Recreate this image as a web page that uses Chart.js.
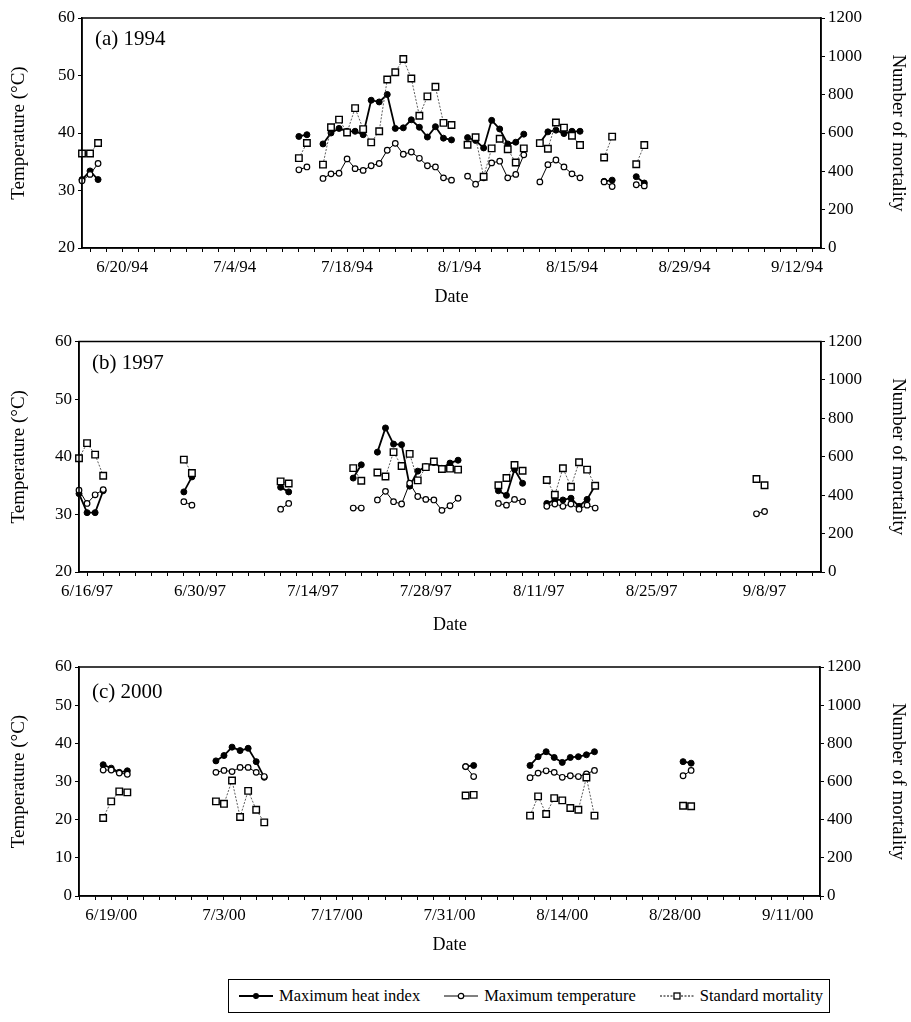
<!DOCTYPE html>
<html>
<head>
<meta charset="utf-8">
<script src="https://cdn.jsdelivr.net/npm/chart.js@4.4.1/dist/chart.umd.min.js"></script>
<style>
  body { margin: 0; background: #fff; width: 911px; height: 1022px; position: relative; overflow: hidden; font-family: "Liberation Serif", serif; }
  canvas { position: absolute; left: 0; }
  #legend { position: absolute; left: 228px; top: 979px; width: 600px; height: 32px; border: 1.5px solid #000;
    display: flex; align-items: center; font-size: 16.5px; color: #000; box-sizing: content-box; }
  #legend .item { display: flex; align-items: center; margin-left: 10px; margin-right: 14px; white-space: nowrap; }
  #legend svg { margin-right: 6px; }
</style>
</head>
<body>
<canvas id="c1994" width="911" height="312" style="top:0px"></canvas>
<canvas id="c1997" width="911" height="320" style="top:320px"></canvas>
<canvas id="c2000" width="911" height="320" style="top:645px"></canvas>
<div id="legend">
  <span class="item"><svg width="34" height="10"><line x1="0" y1="5" x2="34" y2="5" stroke="#000" stroke-width="1.8"/><circle cx="17" cy="5" r="3" fill="#000"/></svg>Maximum heat index</span>
  <span class="item"><svg width="34" height="10"><line x1="0" y1="5" x2="34" y2="5" stroke="#000" stroke-width="1"/><circle cx="17" cy="5" r="2.7" fill="#fff" stroke="#000" stroke-width="1.2"/></svg>Maximum temperature</span>
  <span class="item"><svg width="34" height="10"><line x1="0" y1="5" x2="34" y2="5" stroke="#000" stroke-width="1" stroke-dasharray="2,1.5"/><rect x="14" y="2" width="6" height="6" fill="#fff" stroke="#000" stroke-width="1.3"/></svg>Standard mortality</span>
</div>
<script>
// 1994
const dates1994 = ["6/15","6/16","6/17",
  "7/12","7/13",
  "7/15","7/16","7/17","7/18","7/19","7/20","7/21","7/22","7/23","7/24","7/25","7/26","7/27","7/28","7/29","7/30","7/31",
  "8/2","8/3","8/4","8/5","8/6","8/7","8/8","8/9",
  "8/11","8/12","8/13","8/14","8/15","8/16",
  "8/19","8/20",
  "8/23","8/24"];
const heatIndex1994 = [31.9, 33.4, 31.9, 39.4, 39.7,
  38.1, 40.0, 40.8, 40.3, 40.3, 39.7, 45.7, 45.4, 46.7, 40.8, 40.9, 42.3, 41.0, 39.3, 41.1, 39.1, 38.8,
  39.2, 38.7, 37.4, 42.2, 40.7, 38.1, 38.4, 39.8,
  38.3, 40.2, 40.5, 39.9, 40.3, 40.3,
  31.6, 31.8, 32.4, 31.3];
const maxTemp1994 = [31.7, 32.8, 34.7, 33.6, 34.1,
  32.1, 32.9, 33.0, 35.5, 33.8, 33.5, 34.3, 34.7, 37.0, 38.2, 36.3, 36.7, 35.6, 34.3, 34.1, 32.2, 31.8,
  32.5, 31.1, 32.2, 34.8, 35.1, 32.2, 32.8, 36.2,
  31.5, 34.5, 35.3, 34.1, 32.9, 32.2,
  31.5, 30.7, 31.0, 30.8];
const mortality1994 = [493, 493, 548, 469, 548,
  435, 630, 670, 603, 730, 620, 551, 609, 879, 917, 986, 884, 690, 791, 841, 653, 642,
  539, 578, 372, 520, 570, 515, 446, 520,
  547, 518, 655, 628, 586, 537,
  472, 581, 437, 537];

// 1997
const dates1997 = ["6/15","6/16","6/17","6/18",
  "6/28","6/29",
  "7/10","7/11",
  "7/19","7/20",
  "7/22","7/23","7/24","7/25","7/26","7/27","7/28","7/29","7/30","7/31","8/1",
  "8/6","8/7","8/8","8/9",
  "8/12","8/13","8/14","8/15","8/16","8/17","8/18",
  "9/7","9/8"];
const heatIndex1997 = [33.6, 30.3, 30.3, 34.1, 33.9, 36.5, 34.7, 33.9, 36.3, 38.6,
  40.8, 45.0, 42.2, 42.1, 34.9, 37.5, 38.3, 39.0, 38.0, 38.9, 39.4,
  34.1, 33.3, 37.8, 35.4,
  31.9, 32.5, 32.5, 32.8, 31.4, 32.6, 35.0,
  null, null];
const maxTemp1997 = [34.2, 31.9, 33.4, 34.3, 32.2, 31.6, 30.9, 31.9, 31.1, 31.1,
  32.5, 34.0, 32.2, 31.8, 35.4, 33.1, 32.6, 32.5, 30.7, 31.5, 32.8,
  31.9, 31.6, 32.6, 32.2,
  31.4, 31.8, 31.4, 31.8, 30.9, 31.6, 31.1,
  30.1, 30.5];
const mortality1997 = [592, 671, 611, 501, 585, 515, 472, 461, 541, 475,
  518, 497, 624, 552, 615, 477, 546, 575, 536, 538, 533,
  452, 489, 557, 527,
  479, 402, 540, 444, 571, 533, 449,
  484, 452];

// 2000
const dates2000 = ["6/18","6/19","6/20","6/21",
  "7/2","7/3","7/4","7/5","7/6","7/7","7/8",
  "8/2","8/3",
  "8/10","8/11","8/12","8/13","8/14","8/15","8/16","8/17","8/18",
  "8/29","8/30"];
const heatIndex2000 = [34.4, 33.5, 32.4, 32.8,
  35.4, 36.8, 39.0, 38.1, 38.7, 35.2, 31.1,
  33.9, 34.2,
  34.2, 36.5, 37.8, 36.3, 35.0, 36.3, 36.5, 37.0, 37.8,
  35.2, 34.8];
const maxTemp2000 = [33.0, 33.0, 32.2, 31.9,
  32.4, 32.9, 32.6, 33.7, 33.7, 32.4, 31.3,
  33.9, 31.3,
  31.0, 32.2, 32.8, 32.4, 31.1, 31.5, 31.3, 32.0, 32.9,
  31.5, 32.9];
const mortality2000 = [409, 496, 548, 543,
  496, 483, 605, 414, 551, 452, 386,
  527, 530,
  421, 522, 430, 513, 501, 461, 452, 621, 421,
  473, 470];

// axis labels every 14 days, first one per year
const firstLabel = { 1994: "6/20", 1997: "6/16", 2000: "6/19" };
const axisStart = "6/15", axisEnd = "9/15";

const FONT = "Liberation Serif";

function dayOf(year, md) {
  const [m, d] = md.split("/").map(Number);
  return Date.UTC(year, m - 1, d) / 864e5;
}

function fmt(year, v) {
  const dt = new Date(v * 864e5);
  return (dt.getUTCMonth() + 1) + "/" + dt.getUTCDate() + "/" + String(year).slice(2);
}

// points with a break wherever days are not consecutive
function series(year, dates, vals) {
  const out = [];
  let prev = null;
  dates.forEach((md, i) => {
    const x = dayOf(year, md);
    if (prev !== null && x - prev > 1) out.push({ x: x - 0.5, y: null });
    out.push({ x: x, y: vals[i] });
    prev = x;
  });
  return out;
}

const frame = {
  id: "frame",
  afterDraw(chart, args, opts) {
    const { ctx, chartArea: a } = chart;
    ctx.save();
    ctx.strokeStyle = "#000";
    ctx.lineWidth = 1.5;
    ctx.strokeRect(a.left, a.top, a.right - a.left, a.bottom - a.top);
    ctx.fillStyle = "#000";
    ctx.font = "21px '" + FONT + "'";
    ctx.textBaseline = "alphabetic";
    ctx.fillText(opts.text, a.left + 13, a.top + opts.dy);
    ctx.restore();
  }
};

function makePanel(id, year, dates, hi, tmax, mort, p) {
  const canvas = document.getElementById(id);
  const W = canvas.width, H = canvas.height;
  const min = dayOf(year, axisStart), max = dayOf(year, axisEnd);
  const first = dayOf(year, firstLabel[year]);
  const tickDays = [];
  for (let v = first - 2 * Math.floor((first - min) / 2); v <= max; v += 2) tickDays.push(v);
  const tickFont = { family: FONT, size: 17 };
  const titleFont = { family: FONT, size: 19 };

  return new Chart(canvas, {
    type: "line",
    plugins: [frame],
    data: {
      datasets: [
        {
          label: "Maximum heat index", data: series(year, dates, hi), yAxisID: "y", order: 3,
          borderColor: "#000", borderWidth: 1.8, pointStyle: "circle", pointRadius: 3,
          pointBackgroundColor: "#000", pointBorderColor: "#000", pointBorderWidth: 1
        },
        {
          label: "Maximum temperature", data: series(year, dates, tmax), yAxisID: "y", order: 2,
          borderColor: "#000", borderWidth: 1, pointStyle: "circle", pointRadius: 2.8,
          pointBackgroundColor: "#fff", pointBorderColor: "#000", pointBorderWidth: 1.2
        },
        {
          label: "Standard mortality", data: series(year, dates, mort), yAxisID: "y1", order: 1,
          borderColor: "#333", borderWidth: 0.8, borderDash: [2, 1.5], pointStyle: "rect", pointRadius: 4.6,
          pointBackgroundColor: "#fff", pointBorderColor: "#000", pointBorderWidth: 1.4
        }
      ]
    },
    options: {
      responsive: false,
      animation: false,
      devicePixelRatio: 1,
      spanGaps: false,
      clip: false,
      layout: { padding: { top: p.top, left: 0, right: 0, bottom: 0 } },
      plugins: {
        legend: { display: false },
        tooltip: { enabled: false },
        frame: { text: p.label, dy: p.labelDy }
      },
      scales: {
        x: {
          type: "linear", position: "bottom", min: min, max: max,
          afterBuildTicks: (axis) => { axis.ticks = tickDays.map(v => ({ value: v })); },
          afterFit: (s) => { s.height = H - p.bottom; },
          ticks: {
            autoSkip: false, maxRotation: 0, color: "#000", font: tickFont, padding: 5,
            callback: (v) => ((v - first) % 14 === 0 && v >= first) ? fmt(year, v) : ""
          },
          grid: { drawOnChartArea: false, tickLength: 4, color: "#000", lineWidth: 1 },
          border: { color: "#000", width: 1.5 },
          title: { display: true, text: "Date", color: "#000", font: { family: FONT, size: 18 }, padding: { top: 0, bottom: p.datePad } }
        },
        y: {
          position: "left", min: p.yMin, max: 60,
          afterFit: (s) => { s.width = p.left; },
          ticks: { stepSize: 10, color: "#000", font: tickFont, padding: 3 },
          grid: { drawOnChartArea: false, tickLength: 4, color: "#000" },
          border: { color: "#000", width: 1.5 },
          title: { display: true, text: "Temperature (°C)", color: "#000", font: titleFont, padding: { top: 8, bottom: 0 } }
        },
        y1: {
          position: "right", min: 0, max: 1200,
          afterFit: (s) => { s.width = W - p.right; },
          ticks: { stepSize: 200, color: "#000", font: tickFont, padding: 3, callback: (v) => String(v) },
          grid: { drawOnChartArea: false, tickLength: 4, color: "#000" },
          border: { color: "#000", width: 1.5 },
          title: { display: true, text: "Number of mortality", color: "#000", font: titleFont, padding: { top: 2, bottom: 0 } }
        }
      }
    }
  });
}

makePanel("c1994", 1994, dates1994, heatIndex1994, maxTemp1994, mortality1994,
  { top: 18, bottom: 248, left: 82, right: 821, yMin: 20, label: "(a) 1994", labelDy: 27, datePad: 4 });
makePanel("c1997", 1997, dates1997, heatIndex1997, maxTemp1997, mortality1997,
  { top: 21.5, bottom: 252, left: 79, right: 821, yMin: 20, label: "(b) 1997", labelDy: 27, datePad: 4 });
makePanel("c2000", 2000, dates2000, heatIndex2000, maxTemp2000, mortality2000,
  { top: 22, bottom: 251, left: 79, right: 820, yMin: 0, label: "(c) 2000", labelDy: 31, datePad: 9 });
</script>
</body>
</html>
